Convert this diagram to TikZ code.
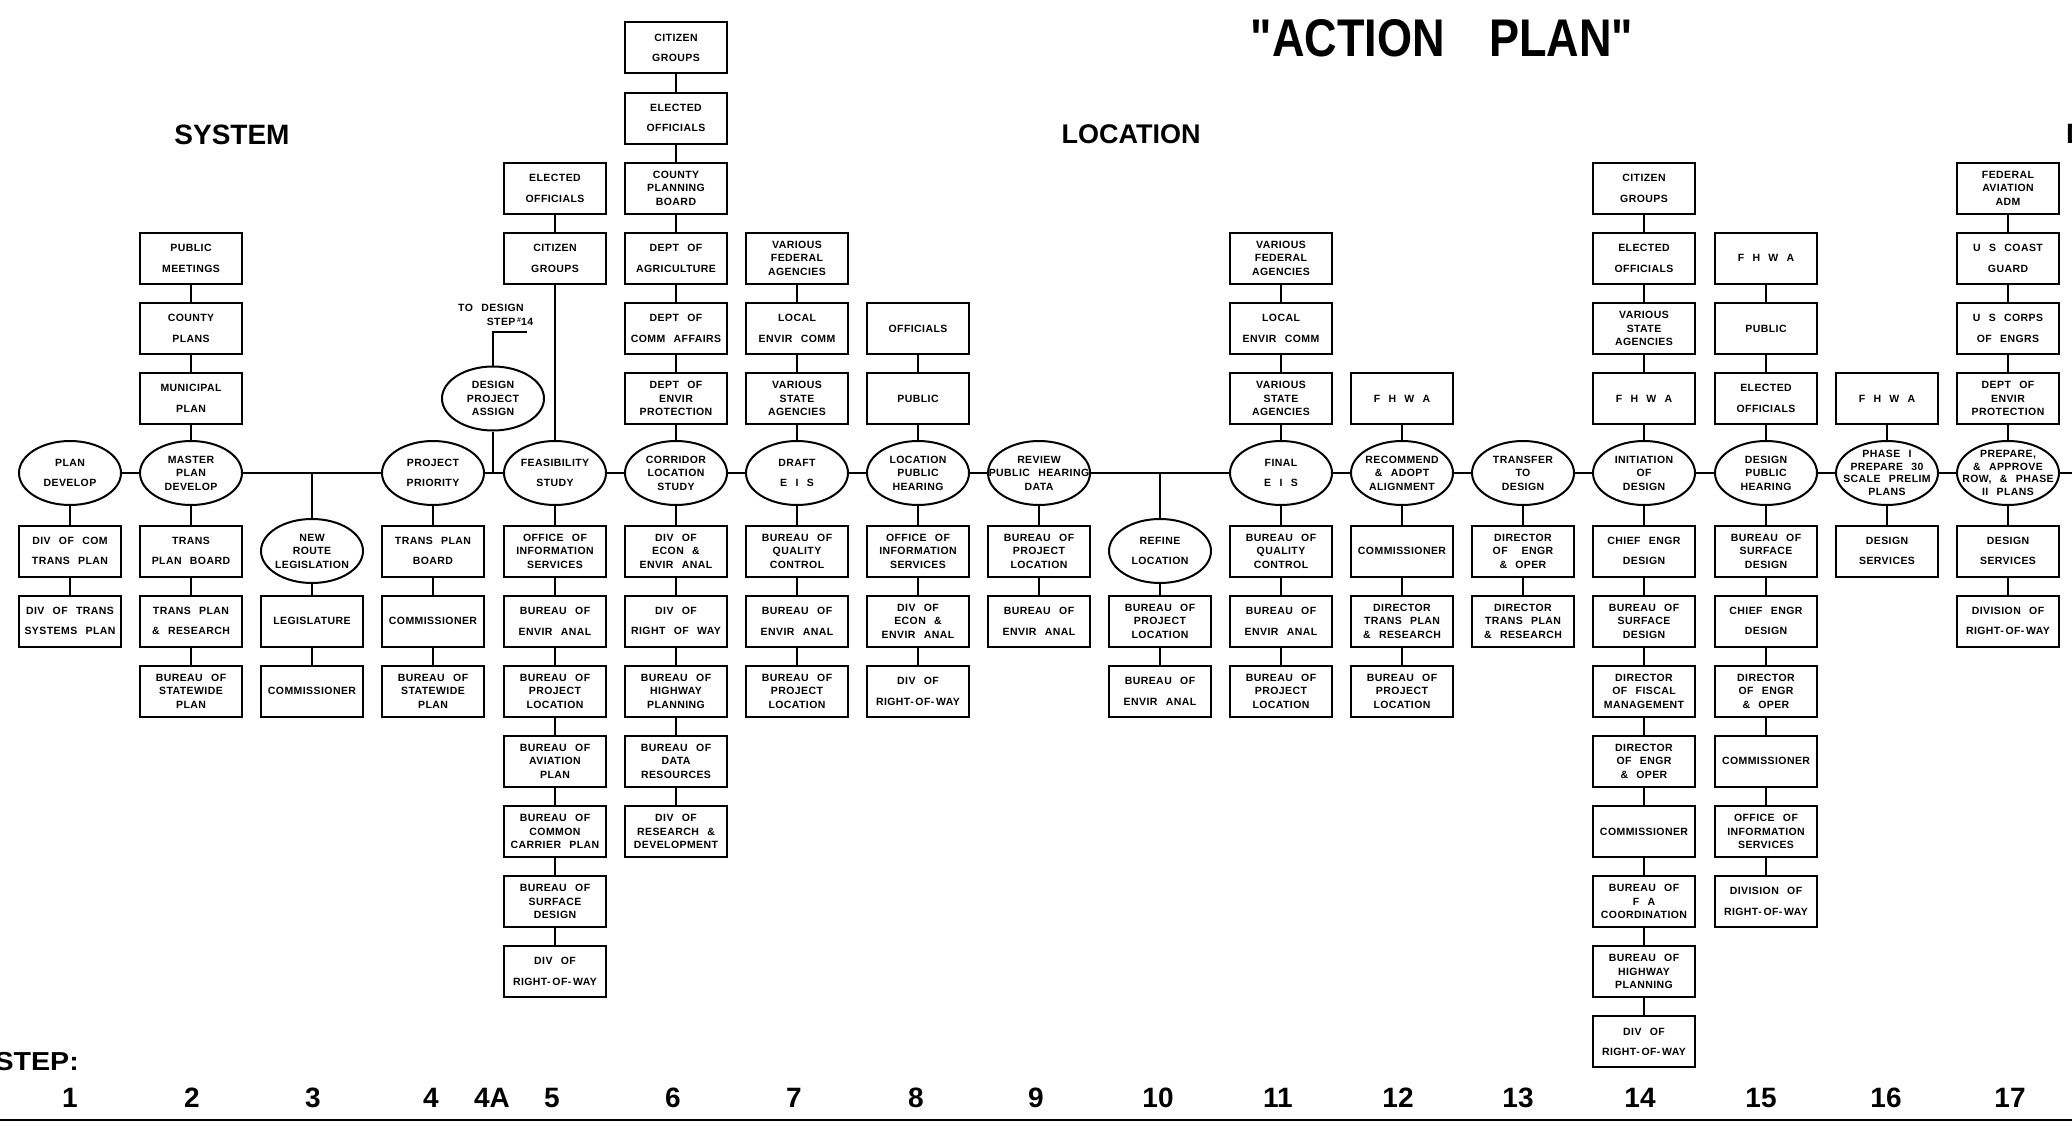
\documentclass[tikz,border=0pt]{standalone}
\usepackage{fontspec}
\setmainfont{Liberation Sans}
\newfontfamily\boxfont[LetterSpace=4,WordSpace=2.5]{Liberation Sans}
\newfontfamily\headfont{Liberation Sans}
\usetikzlibrary{shapes.geometric}

% centred multi-line label of zero size, so the shape keeps its set size
\newcommand\tx[2][13.5]{\vbox to 0pt{\vss\hbox to 0pt{\hss\vbox{\hsize=220pt\parindent=0pt
  \boxfont\bfseries\fontsize{10.5}{#1}\selectfont\centering #2\par}\hss}\vss}}

\tikzset{
  box/.style={draw,rectangle,minimum width=102pt,minimum height=51pt,inner sep=0pt,line width=2pt},
  oval/.style={draw,ellipse,minimum width=102pt,minimum height=64pt,inner sep=0pt,line width=2pt},
  link/.style={line width=2pt},
  note/.style={inner sep=0pt,font=\boxfont\bfseries\fontsize{10.5}{12}\selectfont},
  stepnum/.style={inner sep=0pt,font=\headfont\bfseries\fontsize{28}{30}\selectfont},
}

\newcommand\bx[4]{\node[box] (#1) at (#2,#3) {\tx{#4}};}
\newcommand\bxw[4]{\node[box] (#1) at (#2,#3) {\tx[20.5]{#4}};}
\newcommand\ov[4]{\node[oval] (#1) at (#2,#3) {\tx{#4}};}
\newcommand\ovw[4]{\node[oval] (#1) at (#2,#3) {\tx[20.5]{#4}};}
\newcommand\ovq[4]{\node[oval] (#1) at (#2,#3) {\tx[12.5]{#4}};}

\begin{document}
\begin{tikzpicture}[x=1pt,y=-1pt]
\fill[white] (0,0) rectangle (2072,1126);
\useasboundingbox (0,0) rectangle (2072,1126);

% ---- headings ----
\node[inner sep=0pt] (ttl) at (1442,38) {\headfont\bfseries\fontsize{53}{56}\selectfont\scalebox{0.85}[1]{"ACTION\hspace{52pt}PLAN"}};
\node[inner sep=0pt] (sys) at (232,135) {\headfont\bfseries\fontsize{28}{30}\selectfont SYSTEM};
\node[inner sep=0pt] (loc) at (1131,134) {\headfont\bfseries\fontsize{27}{30}\selectfont LOCATION};
\node[inner sep=0pt,anchor=west] (dsg) at (2066,134) {\headfont\bfseries\fontsize{28}{30}\selectfont D};

% ---- step 1 ----
\ovw{e1}{70}{473}{PLAN\\DEVELOP}
\bxw{d1a}{70}{551}{DIV OF COM\\TRANS PLAN}
\bxw{d1b}{70}{621.1}{DIV OF TRANS\\SYSTEMS PLAN}

% ---- step 2 ----
\bxw{u2c}{191}{258.3}{PUBLIC\\MEETINGS}
\bxw{u2b}{191}{328.4}{COUNTY\\PLANS}
\bxw{u2a}{191}{398.5}{MUNICIPAL\\PLAN}
\ov{e2}{191}{473}{MASTER\\PLAN\\DEVELOP}
\bxw{d2a}{191}{551}{TRANS\\PLAN BOARD}
\bxw{d2b}{191}{621.1}{TRANS PLAN\\\& RESEARCH}
\bx{d2c}{191}{691.2}{BUREAU OF\\STATEWIDE\\PLAN}

% ---- step 3 ----
\ov{e3}{312}{551}{NEW\\ROUTE\\LEGISLATION}
\bx{d3b}{312}{621.1}{LEGISLATURE}
\bx{d3c}{312}{691.2}{COMMISSIONER}

% ---- step 4 ----
\ovw{e4}{433}{473}{PROJECT\\PRIORITY}
\bxw{d4a}{433}{551}{TRANS PLAN\\BOARD}
\bx{d4b}{433}{621.1}{COMMISSIONER}
\bx{d4c}{433}{691.2}{BUREAU OF\\STATEWIDE\\PLAN}

% ---- step 4A ----
\ov{e4x}{493}{398.5}{DESIGN\\PROJECT\\ASSIGN}
\node[note] (td1) at (491,308) {TO DESIGN};
\node[note] (td2) at (510,322) {STEP\,\raisebox{3pt}{\fontsize{7}{8}\selectfont\#}14};
\coordinate (tdend) at (527,332);

% ---- step 5 ----
\bxw{u5d}{555}{188.2}{ELECTED\\OFFICIALS}
\bxw{u5c}{555}{258.3}{CITIZEN\\GROUPS}
\ovw{e5}{555}{473}{FEASIBILITY\\STUDY}
\bx{d5a}{555}{551}{OFFICE OF\\INFORMATION\\SERVICES}
\bxw{d5b}{555}{621.1}{BUREAU OF\\ENVIR ANAL}
\bx{d5c}{555}{691.2}{BUREAU OF\\PROJECT\\LOCATION}
\bx{d5d}{555}{761.3}{BUREAU OF\\AVIATION\\PLAN}
\bx{d5e}{555}{831.4}{BUREAU OF\\COMMON\\CARRIER PLAN}
\bx{d5f}{555}{901.5}{BUREAU OF\\SURFACE\\DESIGN}
\bxw{d5g}{555}{971.6}{DIV OF\\RIGHT-\,OF-\,WAY}

% ---- step 6 ----
\bxw{u6f}{676}{48}{CITIZEN\\GROUPS}
\bxw{u6e}{676}{118.1}{ELECTED\\OFFICIALS}
\bx{u6d}{676}{188.2}{COUNTY\\PLANNING\\BOARD}
\bxw{u6c}{676}{258.3}{DEPT OF\\AGRICULTURE}
\bxw{u6b}{676}{328.4}{DEPT OF\\COMM AFFAIRS}
\bx{u6a}{676}{398.5}{DEPT OF\\ENVIR\\PROTECTION}
\ov{e6}{676}{473}{CORRIDOR\\LOCATION\\STUDY}
\bx{d6a}{676}{551}{DIV OF\\ECON \&\\ENVIR ANAL}
\bxw{d6b}{676}{621.1}{DIV OF\\RIGHT OF WAY}
\bx{d6c}{676}{691.2}{BUREAU OF\\HIGHWAY\\PLANNING}
\bx{d6d}{676}{761.3}{BUREAU OF\\DATA\\RESOURCES}
\bx{d6e}{676}{831.4}{DIV OF\\RESEARCH \&\\DEVELOPMENT}

% ---- step 7 ----
\bx{u7c}{797}{258.3}{VARIOUS\\FEDERAL\\AGENCIES}
\bxw{u7b}{797}{328.4}{LOCAL\\ENVIR COMM}
\bx{u7a}{797}{398.5}{VARIOUS\\STATE\\AGENCIES}
\ovw{e7}{797}{473}{DRAFT\\E I S}
\bx{d7a}{797}{551}{BUREAU OF\\QUALITY\\CONTROL}
\bxw{d7b}{797}{621.1}{BUREAU OF\\ENVIR ANAL}
\bx{d7c}{797}{691.2}{BUREAU OF\\PROJECT\\LOCATION}

% ---- step 8 ----
\bx{u8b}{918}{328.4}{OFFICIALS}
\bx{u8a}{918}{398.5}{PUBLIC}
\ov{e8}{918}{473}{LOCATION\\PUBLIC\\HEARING}
\bx{d8a}{918}{551}{OFFICE OF\\INFORMATION\\SERVICES}
\bx{d8b}{918}{621.1}{DIV OF\\ECON \&\\ENVIR ANAL}
\bxw{d8c}{918}{691.2}{DIV OF\\RIGHT-\,OF-\,WAY}

% ---- step 9 ----
\ov{e9}{1039}{473}{REVIEW\\PUBLIC HEARING\\DATA}
\bx{d9a}{1039}{551}{BUREAU OF\\PROJECT\\LOCATION}
\bxw{d9b}{1039}{621.1}{BUREAU OF\\ENVIR ANAL}

% ---- step 10 ----
\ovw{e10}{1160}{551}{REFINE\\LOCATION}
\bx{d10b}{1160}{621.1}{BUREAU OF\\PROJECT\\LOCATION}
\bxw{d10c}{1160}{691.2}{BUREAU OF\\ENVIR ANAL}

% ---- step 11 ----
\bx{u11c}{1281}{258.3}{VARIOUS\\FEDERAL\\AGENCIES}
\bxw{u11b}{1281}{328.4}{LOCAL\\ENVIR COMM}
\bx{u11a}{1281}{398.5}{VARIOUS\\STATE\\AGENCIES}
\ovw{e11}{1281}{473}{FINAL\\E I S}
\bx{d11a}{1281}{551}{BUREAU OF\\QUALITY\\CONTROL}
\bxw{d11b}{1281}{621.1}{BUREAU OF\\ENVIR ANAL}
\bx{d11c}{1281}{691.2}{BUREAU OF\\PROJECT\\LOCATION}

% ---- step 12 ----
\bx{u12a}{1402}{398.5}{F H W A}
\ov{e12}{1402}{473}{RECOMMEND\\\& ADOPT\\ALIGNMENT}
\bx{d12a}{1402}{551}{COMMISSIONER}
\bx{d12b}{1402}{621.1}{DIRECTOR\\TRANS PLAN\\\& RESEARCH}
\bx{d12c}{1402}{691.2}{BUREAU OF\\PROJECT\\LOCATION}

% ---- step 13 ----
\ov{e13}{1523}{473}{TRANSFER\\TO\\DESIGN}
\bx{d13a}{1523}{551}{DIRECTOR\\OF\hspace{14pt}ENGR\\\&\hspace{8pt}OPER}
\bx{d13b}{1523}{621.1}{DIRECTOR\\TRANS PLAN\\\& RESEARCH}

% ---- step 14 ----
\bxw{u14d}{1644}{188.2}{CITIZEN\\GROUPS}
\bxw{u14c}{1644}{258.3}{ELECTED\\OFFICIALS}
\bx{u14b}{1644}{328.4}{VARIOUS\\STATE\\AGENCIES}
\bx{u14a}{1644}{398.5}{F H W A}
\ov{e14}{1644}{473}{INITIATION\\OF\\DESIGN}
\bxw{d14a}{1644}{551}{CHIEF ENGR\\DESIGN}
\bx{d14b}{1644}{621.1}{BUREAU OF\\SURFACE\\DESIGN}
\bx{d14c}{1644}{691.2}{DIRECTOR\\OF FISCAL\\MANAGEMENT}
\bx{d14d}{1644}{761.3}{DIRECTOR\\OF ENGR\\\&\hspace{8pt}OPER}
\bx{d14e}{1644}{831.4}{COMMISSIONER}
\bx{d14f}{1644}{901.5}{BUREAU OF\\F A\\COORDINATION}
\bx{d14g}{1644}{971.6}{BUREAU OF\\HIGHWAY\\PLANNING}
\bxw{d14h}{1644}{1041.7}{DIV OF\\RIGHT-\,OF-\,WAY}

% ---- step 15 ----
\bx{u15c}{1766}{258.3}{F H W A}
\bx{u15b}{1766}{328.4}{PUBLIC}
\bxw{u15a}{1766}{398.5}{ELECTED\\OFFICIALS}
\ov{e15}{1766}{473}{DESIGN\\PUBLIC\\HEARING}
\bx{d15a}{1766}{551}{BUREAU OF\\SURFACE\\DESIGN}
\bxw{d15b}{1766}{621.1}{CHIEF ENGR\\DESIGN}
\bx{d15c}{1766}{691.2}{DIRECTOR\\OF ENGR\\\&\hspace{8pt}OPER}
\bx{d15d}{1766}{761.3}{COMMISSIONER}
\bx{d15e}{1766}{831.4}{OFFICE OF\\INFORMATION\\SERVICES}
\bxw{d15f}{1766}{901.5}{DIVISION OF\\RIGHT-\,OF-\,WAY}

% ---- step 16 ----
\bx{u16a}{1887}{398.5}{F H W A}
\ovq{e16}{1887}{473}{PHASE I\\PREPARE 30\\SCALE PRELIM\\PLANS}
\bxw{d16a}{1887}{551}{DESIGN\\SERVICES}

% ---- step 17 ----
\bx{u17d}{2008}{188.2}{FEDERAL\\AVIATION\\ADM}
\bxw{u17c}{2008}{258.3}{U S COAST\\GUARD}
\bxw{u17b}{2008}{328.4}{U S CORPS\\OF ENGRS}
\bx{u17a}{2008}{398.5}{DEPT OF\\ENVIR\\PROTECTION}
\ovq{e17}{2008}{473}{PREPARE,\\\& APPROVE\\ROW, \& PHASE\\II PLANS}
\bxw{d17a}{2008}{551}{DESIGN\\SERVICES}
\bxw{d17b}{2008}{621.1}{DIVISION OF\\RIGHT-\,OF-\,WAY}

% ---- junctions on the main line ----
\coordinate (j3) at (312,473);
\coordinate (j4a) at (493,473);
\coordinate (j10) at (1160,473);
\coordinate (rend) at (2080,473);

% ---- main line through the steps ----
\draw[link] (e1) -- (e2) -- (e4) -- (e5) -- (e6) -- (e7) -- (e8) -- (e9) -- (e11)
  -- (e12) -- (e13) -- (e14) -- (e15) -- (e16) -- (e17) -- (rend);
\draw[link] (j3) -- (e3);
\draw[link] (j4a) -- (e4x);
\draw[link] (j10) -- (e10);
\draw[link] (tdend) -| (e4x);

% ---- column chains ----
\draw[link] (e1) -- (d1a) -- (d1b);
\draw[link] (u2c) -- (u2b) -- (u2a) -- (e2) -- (d2a) -- (d2b) -- (d2c);
\draw[link] (e3) -- (d3b) -- (d3c);
\draw[link] (e4) -- (d4a) -- (d4b) -- (d4c);
\draw[link] (u5d) -- (u5c) -- (e5) -- (d5a) -- (d5b) -- (d5c) -- (d5d) -- (d5e) -- (d5f) -- (d5g);
\draw[link] (u6f) -- (u6e) -- (u6d) -- (u6c) -- (u6b) -- (u6a) -- (e6) -- (d6a) -- (d6b) -- (d6c) -- (d6d) -- (d6e);
\draw[link] (u7c) -- (u7b) -- (u7a) -- (e7) -- (d7a) -- (d7b) -- (d7c);
\draw[link] (u8b) -- (u8a) -- (e8) -- (d8a) -- (d8b) -- (d8c);
\draw[link] (e9) -- (d9a) -- (d9b);
\draw[link] (e10) -- (d10b) -- (d10c);
\draw[link] (u11c) -- (u11b) -- (u11a) -- (e11) -- (d11a) -- (d11b) -- (d11c);
\draw[link] (u12a) -- (e12) -- (d12a) -- (d12b) -- (d12c);
\draw[link] (e13) -- (d13a) -- (d13b);
\draw[link] (u14d) -- (u14c) -- (u14b) -- (u14a) -- (e14) -- (d14a) -- (d14b) -- (d14c) -- (d14d) -- (d14e) -- (d14f) -- (d14g) -- (d14h);
\draw[link] (u15c) -- (u15b) -- (u15a) -- (e15) -- (d15a) -- (d15b) -- (d15c) -- (d15d) -- (d15e) -- (d15f);
\draw[link] (u16a) -- (e16) -- (d16a);
\draw[link] (u17d) -- (u17c) -- (u17b) -- (u17a) -- (e17) -- (d17a) -- (d17b);

% ---- step scale ----
\node[inner sep=0pt,anchor=east] (stp) at (79,1062) {\headfont\bfseries\fontsize{26}{28}\selectfont\scalebox{1.1}[1]{STEP:}};
\node[stepnum] (s1) at (70,1098) {1};
\node[stepnum] (s2) at (192,1098) {2};
\node[stepnum] (s3) at (313,1098) {3};
\node[stepnum] (s4) at (431,1098) {4};
\node[stepnum] (s4a) at (492,1098) {4A};
\node[stepnum] (s5) at (552,1098) {5};
\node[stepnum] (s6) at (673,1098) {6};
\node[stepnum] (s7) at (794,1098) {7};
\node[stepnum] (s8) at (916,1098) {8};
\node[stepnum] (s9) at (1036,1098) {9};
\node[stepnum] (s10) at (1158,1098) {10};
\node[stepnum] (s11) at (1278,1098) {11};
\node[stepnum] (s12) at (1398,1098) {12};
\node[stepnum] (s13) at (1518,1098) {13};
\node[stepnum] (s14) at (1640,1098) {14};
\node[stepnum] (s15) at (1761,1098) {15};
\node[stepnum] (s16) at (1886,1098) {16};
\node[stepnum] (s17) at (2010,1098) {17};
\coordinate (bl) at (0,1120);
\coordinate (br) at (2072,1120);
\draw[line width=2.5pt] (bl) -- (br);
\end{tikzpicture}
\end{document}
